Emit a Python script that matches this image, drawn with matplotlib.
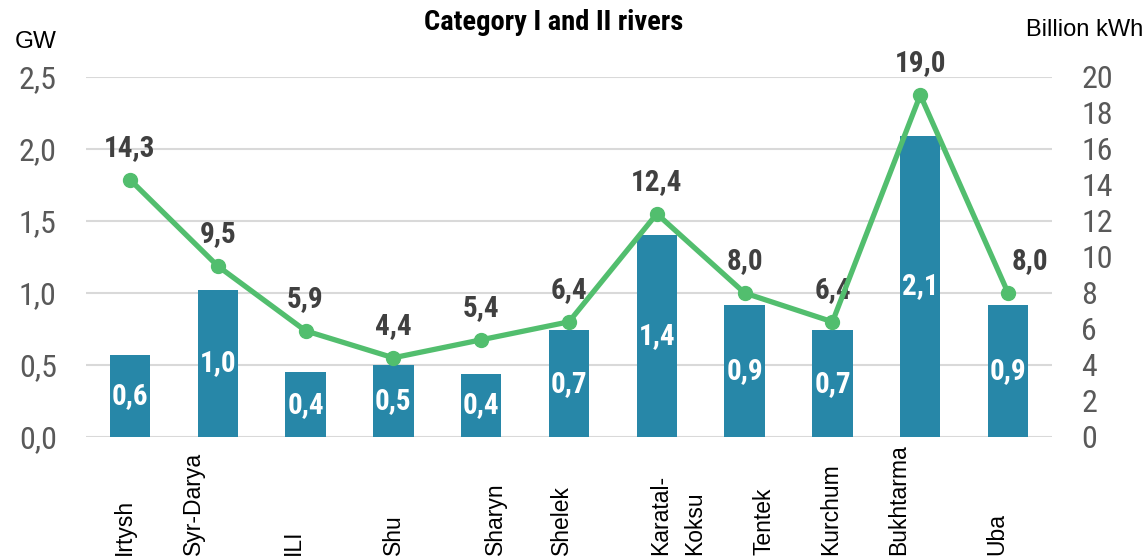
import numpy as np
import matplotlib
matplotlib.use('Agg')
import matplotlib.pyplot as plt
import matplotlib.transforms as mtransforms
from matplotlib.ticker import FuncFormatter

# data
rivers = ['Irtysh', 'Syr-Darya', 'ILI', 'Shu', 'Sharyn', 'Shelek',
          'Karatal-\nKoksu', 'Tentek', 'Kurchum', 'Bukhtarma', 'Uba']
capacity_gw = [0.57, 1.02, 0.45, 0.50, 0.44, 0.74, 1.40, 0.92, 0.74, 2.09, 0.92]
capacity_lbl = ['0,6', '1,0', '0,4', '0,5', '0,4', '0,7', '1,4', '0,9', '0,7', '2,1', '0,9']
energy_bkwh = [14.3, 9.5, 5.9, 4.4, 5.4, 6.4, 12.4, 8.0, 6.4, 19.0, 8.0]

# layout: how far each category label sits from its bar (category units)
label_shift = [-0.06, -0.28, -0.14, 0.0, 0.16, -0.09, 0.24, 0.22, -0.02, -0.25, -0.13]
# layout: sideways nudge of the line labels (points)
value_nudge = [0, 0, 0, 0, 0, 0, 0, 0, 0, 0, 16]

BAR = '#2787A8'
LINE = '#52BE6E'
GRID = '#D9D9D9'
TICK = '#595959'
NARROW = ['Roboto Condensed', 'DejaVu Sans']
REG = ['Liberation Sans', 'DejaVu Sans']

plt.rcParams['font.family'] = REG

fig = plt.figure(figsize=(11.48, 5.59), dpi=100)
ax = fig.add_axes([86/1148, 1-437/559, (1052-86)/1148, (437-77)/559])
ax2 = ax.twinx()

x = np.arange(len(rivers))
bars = ax.bar(x, capacity_gw, width=0.46, color=BAR, zorder=2)
for b, lbl in zip(bars, capacity_lbl):
    ax.text(b.get_x() + b.get_width()/2, b.get_height()/2, lbl, ha='center', va='center',
            color='white', fontsize=21, fontweight='bold', family=NARROW, zorder=3)

ax.set_ylim(0, 2.5)
ax.set_yticks(np.arange(0, 2.51, 0.5))
ax.yaxis.set_major_formatter(FuncFormatter(lambda v, p: ('%.1f' % v).replace('.', ',')))
ax.set_xlim(-0.5, len(rivers) - 0.5)
ax.set_xticks([])
ax.grid(axis='y', color=GRID, linewidth=1.5, zorder=0)
ax.set_axisbelow(True)
ax.tick_params(axis='y', length=0, pad=21, labelsize=23, labelcolor=TICK)
for s in ax.spines.values():
    s.set_visible(False)
for t in ax.get_yticklabels():
    t.set_family(NARROW)

ax2.plot(x, energy_bkwh, color=LINE, linewidth=3.8, marker='o', markersize=10, zorder=4)
for xi, v, dx in zip(x, energy_bkwh, value_nudge):
    ax2.annotate(('%.1f' % v).replace('.', ','), (xi, v), xytext=(dx, 17),
                 textcoords='offset points', ha='center', va='baseline',
                 fontsize=21, fontweight='bold', color='#404040', family=NARROW)
ax2.set_ylim(0, 20)
ax2.set_yticks(np.arange(0, 21, 2))
ax2.tick_params(axis='y', length=0, pad=21, labelsize=23, labelcolor=TICK)
for s in ax2.spines.values():
    s.set_visible(False)
for t in ax2.get_yticklabels():
    t.set_family(NARROW)
    t.set_horizontalalignment('left')

# category labels, rotated and sitting at the bottom edge of the figure
trans = mtransforms.blended_transform_factory(ax.transData, fig.transFigure)
for xi, name, dx in zip(x, rivers, label_shift):
    ax.text(xi + dx, 0.007, name, transform=trans, rotation=90, ha='center', va='bottom',
            multialignment='left', fontsize=16.5, color='black', linespacing=1.6)

fig.text(554/1148, 1-22/559, 'Category I and II rivers', ha='center', va='center',
         fontsize=20.5, fontweight='bold', family=NARROW)
fig.text(15/1148, 1-42/559, 'GW', ha='left', va='center', fontsize=17.5)
fig.text(1143/1148, 1-30/559, 'Billion kWh', ha='right', va='center', fontsize=17)

fig.savefig('out.png', dpi=100)
